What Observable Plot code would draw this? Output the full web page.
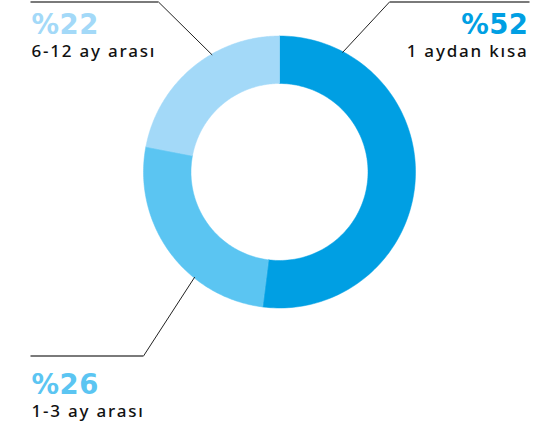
<!DOCTYPE html>
<html><head><meta charset="utf-8">
<script src="https://cdn.jsdelivr.net/npm/d3@7"></script>
<script src="https://cdn.jsdelivr.net/npm/@observablehq/plot@0.6"></script>
<style>
html,body{margin:0;padding:0;background:#fff;}
svg{display:block;}
</style>
</head><body>
<div id="chart"></div>
<script>
// ---- data ----
const categories = ["1 aydan kısa", "1-3 ay arası", "6-12 ay arası"];
const values = [52, 26, 22];
const percentLabels = ["%52", "%26", "%22"];
const colors = ["#009FE3", "#5BC5F2", "#A3D9F8"];

// ---- layout ----
const W = 537, H = 424;
const cx = 279, cy = 171.5, rOuter = 136, rInner = 88.5;
// leader-line start angle (deg, clockwise from top), elbow point and end of horizontal
const leaders = [
  {angle: 27.8, elbow: [389, 1.5], end: [529, 1.5]},
  {angle: 218.9, elbow: [143, 355.5], end: [30, 355.5]},
  {angle: 330.1, elbow: [158, 1.5], end: [30, 1.5]}
];
const labels = [
  {x: 528, anchor: "end", pctY: 33, subY: 56},
  {x: 31, anchor: "start", pctY: 393.5, subY: 416.5},
  {x: 31, anchor: "start", pctY: 33, subY: 56}
];

const pie = d3.pie().sort(null).value(d => d).startAngle(0).endAngle(2 * Math.PI)(values);

const pt = (a, r) => [cx + r * Math.sin(a), cy - r * Math.cos(a)];
const ring = [];
pie.forEach((s, i) => {
  const n = 120;
  for (let k = 0; k <= n; k++) {
    const a = s.startAngle + (s.endAngle - s.startAngle) * k / n;
    const [x, y] = pt(a, rOuter);
    ring.push({cat: categories[i], x, y});
  }
  for (let k = n; k >= 0; k--) {
    const a = s.startAngle + (s.endAngle - s.startAngle) * k / n;
    const [x, y] = pt(a, rInner);
    ring.push({cat: categories[i], x, y});
  }
});

const diag = leaders.map((l, i) => {
  const [x1, y1] = pt(l.angle * Math.PI / 180, rOuter - 1);
  return {x1, y1, x2: l.elbow[0], y2: l.elbow[1]};
});
const horiz = leaders.map(l => ({x1: l.elbow[0], y1: l.elbow[1], x2: l.end[0], y2: l.end[1]}));

const textData = categories.map((c, i) => ({cat: c, pct: percentLabels[i], ...labels[i], color: colors[i]}));
const startT = textData.filter(d => d.anchor === "start");
const endT = textData.filter(d => d.anchor === "end");

const plot = Plot.plot({
  width: W, height: H,
  margin: 0,
  x: {domain: [0, W], range: [0, W], axis: null},
  y: {domain: [0, H], range: [0, H], axis: null},
  color: {domain: categories, range: colors},
  style: {background: "#fff"},
  marks: [
    Plot.line(ring, {x: "x", y: "y", z: "cat", fill: "cat", stroke: "cat", strokeWidth: 0.5, curve: "linear-closed"}),
    Plot.link(diag, {x1: "x1", y1: "y1", x2: "x2", y2: "y2", stroke: "#222", strokeWidth: 1}),
    Plot.link(horiz, {x1: "x1", y1: "y1", x2: "x2", y2: "y2", stroke: "#7a7a7a", strokeWidth: 2}),
    Plot.text(startT, {x: "x", y: "pctY", text: "pct", fill: "cat", textAnchor: "start", lineAnchor: "bottom", fontSize: 27.5, fontWeight: "bold", fontFamily: "DejaVu Sans", className: "pct"}),
    Plot.text(endT, {x: "x", y: "pctY", text: "pct", fill: "cat", textAnchor: "end", lineAnchor: "bottom", fontSize: 27.5, fontWeight: "bold", fontFamily: "DejaVu Sans", className: "pct"}),
    Plot.text(startT, {x: "x", y: "subY", text: "cat", fill: "#111", textAnchor: "start", lineAnchor: "bottom", fontSize: 17, fontWeight: 500, fontFamily: "Noto Sans", className: "sub"}),
    Plot.text(endT, {x: "x", y: "subY", text: "cat", fill: "#111", textAnchor: "end", lineAnchor: "bottom", fontSize: 17, fontWeight: 500, fontFamily: "Noto Sans", className: "sub"})
  ]
});
document.getElementById("chart").appendChild(plot);
plot.querySelectorAll(".pct text").forEach(t => { t.style.letterSpacing = "0.5px"; });
plot.querySelectorAll(".sub text").forEach(t => { t.style.letterSpacing = "1.8px"; });
</script>
</body></html>
